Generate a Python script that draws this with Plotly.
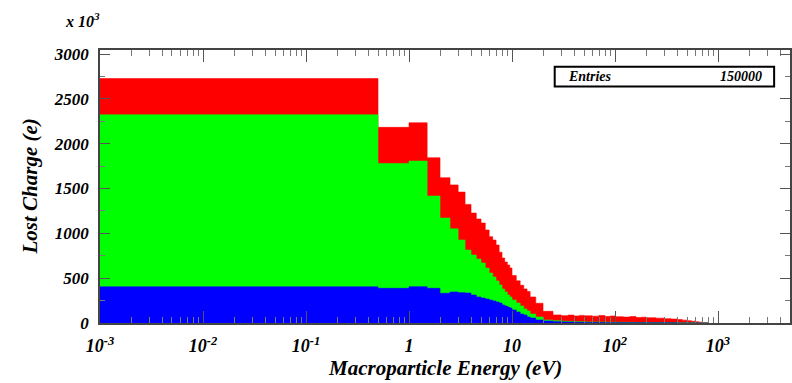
import numpy as np
import plotly.graph_objects as go

# Histogram bin edges (eV)
bin_edges = [0, 0.5, 1, 1.5, 2, 2.5, 3, 3.5, 4, 4.5, 5, 5.5, 6, 6.5, 7, 7.5, 8, 8.5, 9, 9.5, 10,
             11, 12, 13, 14, 15, 17, 20, 25, 30, 35, 40, 45, 50, 60, 70, 80, 90, 100,
             120, 140, 160, 180, 200, 250, 300, 350, 400, 450, 500, 550, 600, 650, 700, 800]

# Lost charge per bin (x 10^3 e), stacked components
blue_charge = [403, 387, 405, 387, 331, 346, 338, 334, 312, 290, 279, 268, 256, 245, 234, 223, 201, 190, 178, 167,
               145, 123, 100, 89, 67, 56, 33, 22, 15, 12, 10, 8, 7, 6, 5, 5, 4, 4,
               4, 3, 3, 3, 3, 2, 2, 2, 2, 1, 1, 1, 1, 1, 0, 0]
green_charge = [1919, 1393, 1401, 1029, 839, 704, 587, 480, 446, 423, 390, 345, 301, 268, 234, 201, 178, 156, 134, 123,
                111, 100, 90, 67, 67, 44, 34, 11, 10, 8, 8, 7, 7, 6, 5, 5, 5, 4,
                4, 4, 4, 3, 3, 3, 3, 2, 2, 2, 2, 1, 1, 0, 1, 0]
red_charge = [404, 402, 427, 427, 450, 490, 535, 509, 468, 447, 446, 424, 405, 412, 402, 366, 346, 334, 335, 323,
              274, 247, 230, 224, 216, 190, 153, 97, 65, 62, 70, 63, 71, 68, 66, 74, 63, 70,
              62, 59, 65, 56, 59, 53, 49, 44, 40, 35, 29, 24, 18, 13, 8, 4]

x_tick_vals = [1e-3, 1e-2, 1e-1, 1, 10, 100, 1000]
x_tick_text = ["10<sup>-3</sup>", "10<sup>-2</sup>", "10<sup>-1</sup>", "1", "10", "10<sup>2</sup>", "10<sup>3</sup>"]
y_tick_vals = [0, 500, 1000, 1500, 2000, 2500, 3000]
entries = "150000"

x_min, x_max = 1e-3, 5000.0
edges = [max(e, x_min) for e in bin_edges]

blue = np.array(blue_charge, dtype=float)
green_cum = blue + np.array(green_charge, dtype=float)
total = green_cum + np.array(red_charge, dtype=float)

FONT = "Liberation Serif"

def step_trace(vals, color):
    ys = list(vals) + [vals[-1]]
    return go.Scatter(x=edges, y=ys, mode="lines", line=dict(shape="hv", width=0.6, color=color),
                      fill="tozeroy", fillcolor=color, hoverinfo="skip", showlegend=False)

fig = go.Figure()
fig.add_trace(step_trace(total, "#FF0000"))
fig.add_trace(step_trace(green_cum, "#00FF00"))
fig.add_trace(step_trace(blue, "#0000FF"))

minor_x = [m * 10.0 ** d for d in range(-3, 4) for m in range(2, 10) if m * 10.0 ** d < x_max]

xtickfont = dict(family=FONT, size=18, color="black", weight="bold", style="italic")
ytickfont = dict(family=FONT, size=17, color="black", weight="bold", style="italic")

fig.update_layout(
    width=792, height=383,
    margin=dict(l=100, r=0, t=50, b=60),
    paper_bgcolor="white", plot_bgcolor="white",
    xaxis=dict(type="log", range=[np.log10(x_min), np.log10(x_max)],
               tickmode="array", tickvals=x_tick_vals, ticktext=x_tick_text,
               ticks="inside", ticklen=12, tickcolor="#555", tickwidth=1,
               minor=dict(tickmode="array", tickvals=minor_x, ticks="inside", ticklen=6, tickcolor="#777", showgrid=False),
               showline=True, linecolor="#444", linewidth=1.5, mirror="ticks",
               showgrid=False, zeroline=False, tickfont=xtickfont, ticklabelstandoff=6),
    yaxis=dict(range=[0, 3045], tickmode="array", tickvals=y_tick_vals,
               ticks="inside", ticklen=10, tickcolor="#555", tickwidth=1,
               minor=dict(dtick=250, ticks="inside", ticklen=5, tickcolor="#777", showgrid=False),
               showline=True, linecolor="#444", linewidth=1.5, mirror="ticks",
               showgrid=False, zeroline=False, tickfont=ytickfont, ticklabelstandoff=6),
    shapes=[dict(type="rect", xref="paper", yref="paper", x0=0.659, x1=0.977, y0=0.866, y1=0.939,
                 line=dict(color="black", width=2), fillcolor="white")],
    annotations=[
        dict(text="Macroparticle Energy (eV)", xref="paper", yref="paper", x=0.5, y=0, yshift=-45,
             showarrow=False, yanchor="middle", font=dict(family=FONT, size=21, color="black", weight="bold", style="italic")),
        dict(text="Lost Charge (e)", xref="paper", yref="paper", x=0, y=0.5, xshift=-71, textangle=-90,
             showarrow=False, xanchor="center", font=dict(family=FONT, size=21, color="black", weight="bold", style="italic")),
        dict(text="x 10<sup>3</sup>", xref="paper", yref="paper", x=0, y=1, xshift=2, yshift=30,
             showarrow=False, xanchor="right", yanchor="middle", font=dict(family=FONT, size=16, color="black", weight="bold", style="italic")),
        dict(text="Entries", xref="paper", yref="paper", x=0.676, y=0.902, showarrow=False, xanchor="left", yanchor="middle",
             font=dict(family=FONT, size=14, color="black", weight="bold", style="italic")),
        dict(text=entries, xref="paper", yref="paper", x=0.962, y=0.902, showarrow=False, xanchor="right", yanchor="middle",
             font=dict(family=FONT, size=14, color="black", weight="bold", style="italic")),
    ],
)

fig.write_html("out.html")
